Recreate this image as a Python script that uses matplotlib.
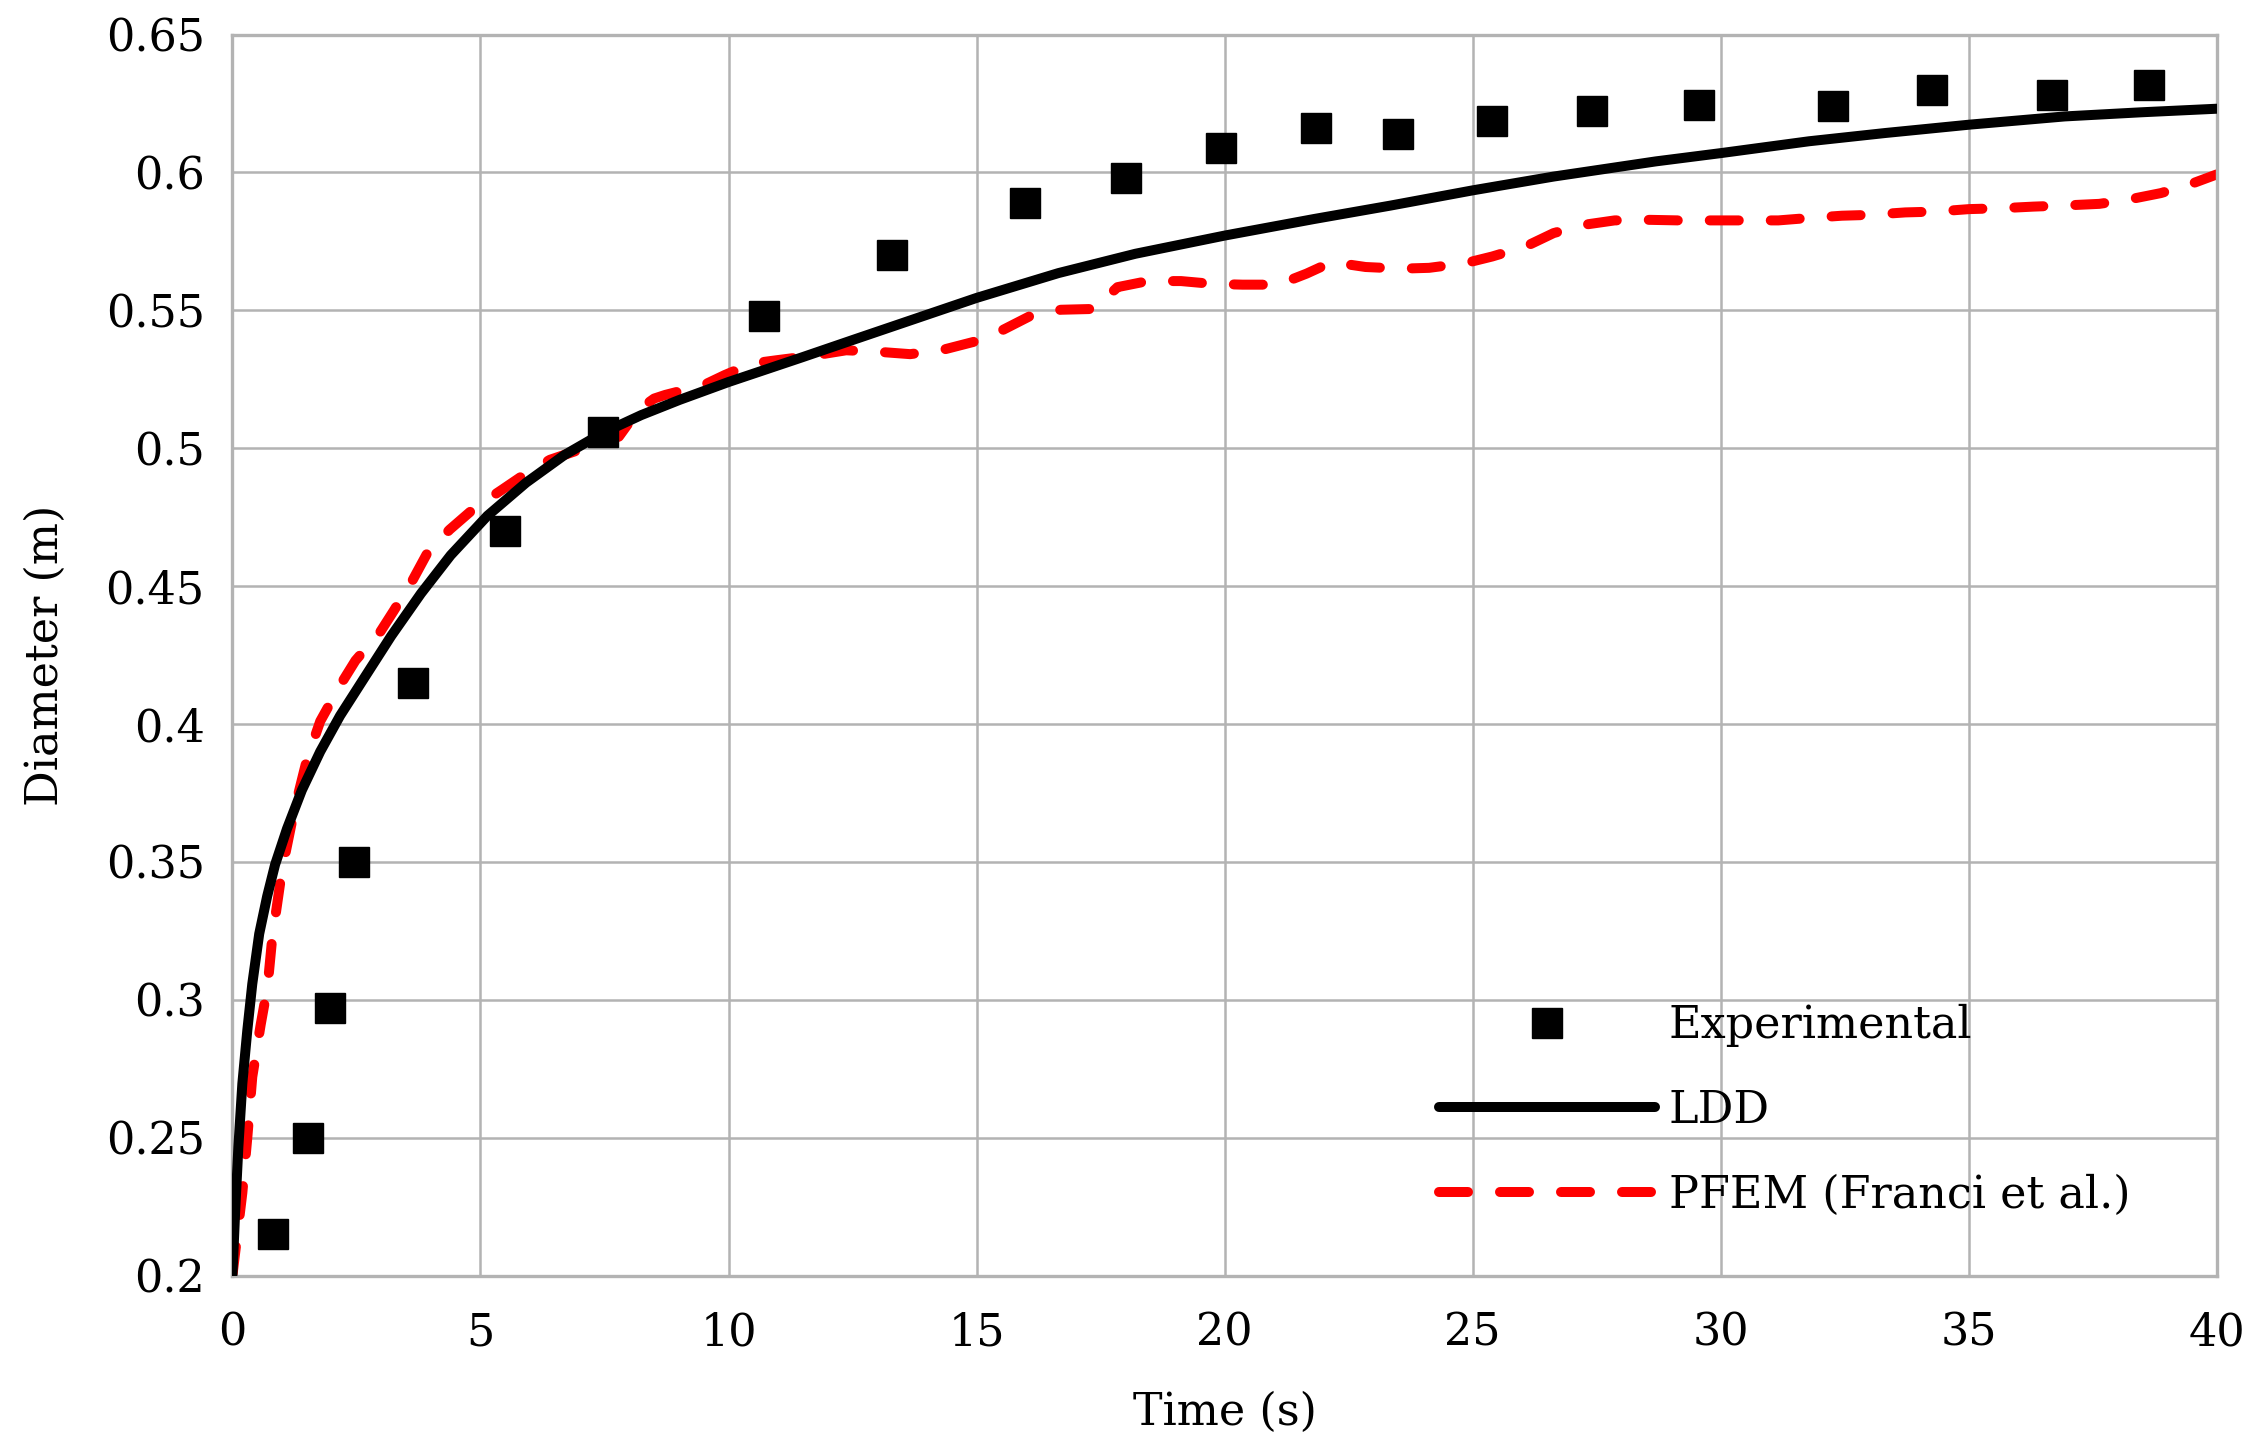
import matplotlib
matplotlib.use('Agg')

import matplotlib.pyplot as plt

# Experimental points
exp_t = [0.81, 1.53, 1.97, 2.46, 3.64, 5.50, 7.46, 10.72, 13.29, 15.98, 18.01,
         19.92, 21.84, 23.49, 25.39, 27.41, 29.56, 32.27, 34.26, 36.67, 38.64]
exp_d = [0.215, 0.250, 0.297, 0.350, 0.415, 0.470, 0.506, 0.548, 0.570, 0.589, 0.598,
         0.609, 0.616, 0.614, 0.6185, 0.6224, 0.6246, 0.6242, 0.630, 0.6282, 0.6316]

# LDD solution
ldd_t = [0, 0.054, 0.12, 0.2, 0.3, 0.4, 0.54, 0.7, 0.86, 1.1, 1.4, 1.77, 2.17,
         2.64, 3.2, 3.8, 4.4, 5.14, 5.92, 6.69, 7.46, 8.24, 9.01, 10.0, 11.49,
         12.53, 13.56, 15.0, 16.65, 18.2, 20.0, 21.8, 23.35, 25.0, 26.63, 28.69,
         30.0, 31.78, 33.32, 35.0, 36.93, 38.47, 40.0]
ldd_d = [0.2, 0.2227, 0.2467, 0.2696, 0.2889, 0.3057, 0.3239, 0.3375, 0.349, 0.362,
         0.376, 0.39, 0.403, 0.4162, 0.4319, 0.4473, 0.4612, 0.4755, 0.4875, 0.4975,
         0.5055, 0.512, 0.5175, 0.524, 0.533, 0.5394, 0.5457, 0.5545, 0.5635, 0.5705,
         0.5771, 0.5831, 0.588, 0.5935, 0.5985, 0.604, 0.607, 0.6113, 0.6143, 0.6173,
         0.6203, 0.6218, 0.6231]

# PFEM (Franci et al.)
pfem_t = [0, 0.1, 0.2, 0.3, 0.4, 0.57, 0.71, 0.8, 1.0, 1.25, 1.5, 1.77, 2.17,
          2.48, 2.98, 3.25, 3.64, 3.95, 4.38, 4.88, 5.43, 5.93, 6.4, 7.09, 7.79,
          8.18, 8.5, 8.72, 9.5, 9.92, 10.47, 10.97, 11.75, 12.37, 12.99, 13.66,
          14.28, 14.95, 15.52, 16.13, 16.7, 17.37, 17.84, 18.45, 19.12, 19.74,
          20.36, 21.08, 21.65, 22.16, 22.84, 23.56, 24.12, 24.85, 25.39, 26.06,
          26.63, 27.24, 27.86, 28.58, 29.15, 29.87, 30.44, 31.16, 31.72, 32.44,
          33.0, 33.72, 34.34, 35.01, 35.63, 36.3, 36.91, 37.63, 38.2, 38.87,
          39.43, 40.0]
pfem_d = [0.2, 0.215, 0.23, 0.25, 0.272, 0.291, 0.305, 0.322, 0.347, 0.369, 0.387,
          0.401, 0.414, 0.423, 0.4334, 0.441, 0.4524, 0.4627, 0.4705, 0.4783,
          0.4849, 0.491, 0.4958, 0.5, 0.5042, 0.5139, 0.518, 0.5193, 0.5229, 0.5265,
          0.5307, 0.5319, 0.5337, 0.5355, 0.535, 0.5341, 0.5355, 0.5386, 0.5428,
          0.5484, 0.5502, 0.5505, 0.5584, 0.5606, 0.5606, 0.5596, 0.5593, 0.5593,
          0.5633, 0.5675, 0.5657, 0.5651, 0.5654, 0.5671, 0.5695, 0.5731, 0.578,
          0.581, 0.5826, 0.5828, 0.5826, 0.5826, 0.5826, 0.5826, 0.5834, 0.5843,
          0.5846, 0.5855, 0.5858, 0.5867, 0.587, 0.5876, 0.588, 0.5886, 0.5901,
          0.5925, 0.5955, 0.5993]

xticks = [0, 5, 10, 15, 20, 25, 30, 35, 40]
yticks = [0.2, 0.25, 0.3, 0.35, 0.4, 0.45, 0.5, 0.55, 0.6, 0.65]

plt.rcParams['font.family'] = ['DejaVu Serif']
fs = 32

fig = plt.figure(figsize=(22.5, 14.45), dpi=100)
ax = fig.add_axes([0.1033, 0.1173, 0.882, 0.8588])

ax.plot(exp_t, exp_d, 's', color='black', markersize=22, label='Experimental', zorder=4)
ax.plot(ldd_t, ldd_d, '-', color='black', lw=7.2, solid_capstyle='round',
        solid_joinstyle='round', label='LDD', zorder=3)
ax.plot(pfem_t, pfem_d, '--', color='#ff0000', lw=7.2, dashes=(2.9, 3.2),
        dash_capstyle='round', dash_joinstyle='round',
        label='PFEM (Franci et al.)', zorder=2)

ax.set_xlim(0, 40)
ax.set_ylim(0.2, 0.65)
ax.set_xticks(xticks)
ax.set_yticks(yticks)
ax.set_xticklabels([str(v) for v in xticks])
ax.set_yticklabels([('%g' % v) for v in yticks])
ax.tick_params(length=0, labelsize=fs)
ax.tick_params(axis='y', pad=20)
ax.tick_params(axis='x', pad=26)
ax.grid(True, color='#b3b3b3', lw=1.8)
ax.set_axisbelow(True)
for s in ax.spines.values():
    s.set_color('#b3b3b3')
    s.set_linewidth(2.4)

ax.set_xlabel('Time (s)', fontsize=fs, labelpad=26)
ax.set_ylabel('Diameter (m)', fontsize=fs, labelpad=28)

ax.legend(loc='center left', bbox_to_anchor=(0.608, 0.133), frameon=False,
          fontsize=fs, handlelength=4.85, handletextpad=0.32, labelspacing=0.94,
          borderpad=0, borderaxespad=0)

plt.savefig('out.png', dpi=100)
